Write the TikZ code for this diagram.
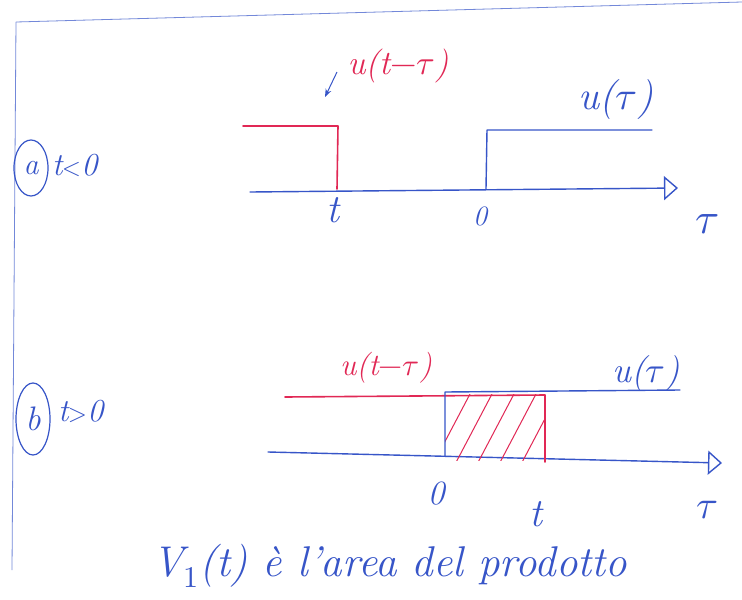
\documentclass[tikz,border=0pt]{standalone}
\usepackage{unicode-math}
\setmainfont{Latin Modern Roman}
\setmathfont{Latin Modern Math}
\usetikzlibrary{arrows.meta,shapes.geometric}
\definecolor{pen}{RGB}{55,85,200}
\definecolor{redpen}{RGB}{225,40,85}
\tikzset{
  bl/.style={draw=pen, line width=1.4pt, line cap=round, line join=round},
  rd/.style={draw=redpen, line width=1.6pt, line cap=round, line join=round},
  lab/.style={inner sep=0pt},
  sz/.style={font=\fontsize{#1}{#1}\selectfont\itshape},
  axisarrow/.style={-{Triangle[open, length=14pt, width=24pt]}},
  ring/.style={draw=pen, line width=1.2pt, ellipse, inner sep=0pt},
}
\begin{document}
\begin{tikzpicture}[x=1pt,y=-1pt]
\useasboundingbox (0,0) rectangle (742,600);
\fill[white] (0,0) rectangle (742,600);
% page border
\coordinate (tl) at (16,22);
\coordinate (tr) at (742,2);
\coordinate (bl) at (12,570);
\draw[draw=pen!70, line width=0.8pt] (tl) -- (tr);
\draw[draw=pen!70, line width=0.8pt] (tl) -- (bl);

% ---------- panel (a) ----------
\node[ring, minimum width=34pt, minimum height=56pt, text=pen, sz=30] (ca) at (31,168) {a};
\node[lab, text=pen, anchor=west, sz=32] (ta) at (52,166) {t{\fontsize{24}{24}\selectfont$<$}0};

\coordinate (a0) at (250,192);
\coordinate (a1) at (678,188);
\draw[bl, axisarrow] (a0) -- (a1);
\node[lab, text=pen, sz=44] (tau1) at (707,224) {$\tau$};

\coordinate (ra) at (243,126);
\coordinate (rb) at (338,126);
\coordinate (rc) at (337,189);
\draw[rd] (ra) -- (rb) -- (rc);
\node[lab, text=pen, sz=40] (tla) at (333,210) {t};
\node[lab, text=pen, sz=28] (za) at (480,216) {0};

\coordinate (ua) at (486,189);
\coordinate (ub) at (487,130);
\coordinate (uc) at (652,130);
\draw[bl] (ua) -- (ub) -- (uc);
\node[lab, text=pen, sz=40] (lua) at (616,100) {u($\tau$)};
\node[lab, text=redpen, sz=34] (lra) at (398,66) {u(t$-\tau$)};
\coordinate (arrfrom) at (337,72);
\coordinate (arrtip) at (325,97);
\draw[draw=pen, line width=1pt, -{Stealth[length=8pt, width=6pt]}] (arrfrom) -- (arrtip);

% ---------- panel (b) ----------
\node[ring, minimum width=34pt, minimum height=72pt, text=pen, sz=34] (cb) at (33,419) {b};
\node[lab, text=pen, anchor=west, sz=32] (tb) at (58,412) {t{\fontsize{24}{24}\selectfont$>$}0};

\coordinate (b0) at (268,452);
\coordinate (b1) at (722,463);
\draw[bl, axisarrow] (b0) -- (b1);

% hatched area
\begin{scope}
\clip (445,394) rectangle (545,460);
\foreach \i in {0,...,8} {
  \draw[draw=redpen, line width=1pt] (430+\i*22,470) -- (470+\i*22,394);
}
\end{scope}
\draw[rd] (285,397) -- (545,395) -- (545,462);
\draw[bl] (445,456) -- (445,392) -- (680,390);
\node[lab, text=redpen, sz=31] (lrb) at (386,368) {u(t$-\tau$)};
\node[lab, text=pen, sz=36] (lub) at (646,374) {u($\tau$)};
\node[lab, text=pen, sz=34] (zb) at (436,494) {0};
\node[lab, text=pen, sz=40] (tlb) at (536,514) {t};
\node[lab, text=pen, sz=40] (taub) at (707,510) {$\tau$};

\node[lab, text=pen, sz=43] (cap) at (390,566) {V$_1$(t) è l'area del prodotto};
\end{tikzpicture}
\end{document}
